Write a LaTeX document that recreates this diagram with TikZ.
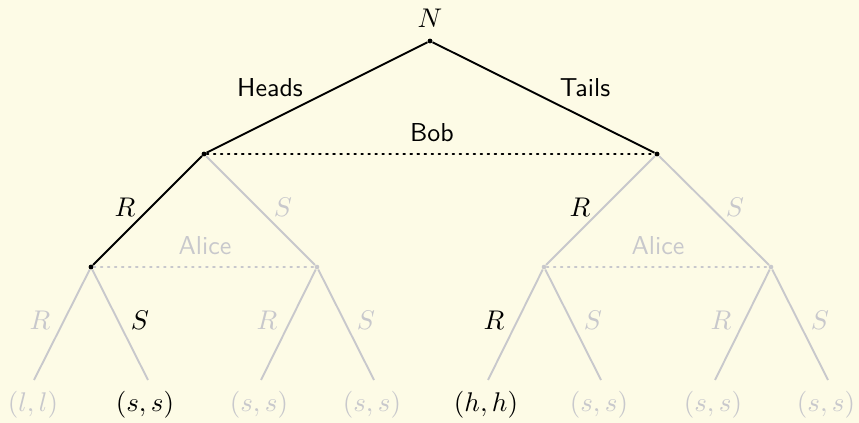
\documentclass[tikz,border=0pt]{standalone}
\definecolor{bgc}{RGB}{253,251,230}
\definecolor{fade}{RGB}{200,200,204}
\begin{document}
\begin{tikzpicture}[x=0.37037pt,y=-0.37037pt,
  dotnode/.style={circle,fill=#1,inner sep=0pt,minimum size=1.7pt},
  bl/.style={draw=black,line width=0.7pt},
  gr/.style={draw=fade,line width=0.7pt},
  info/.style={line width=0.7pt,dash pattern=on 0.6pt off 2pt,line cap=round},
  lab/.style={inner sep=0pt},
  sflab/.style={inner sep=0pt,font=\fontsize{9.6}{11}\selectfont\sffamily},
  leaflab/.style={inner sep=0pt}]
\fill[bgc] (0,0) rectangle (859,423);
\useasboundingbox (0,0) rectangle (859,423);
% nodes
\node[dotnode=black] (r) at (430,41) {};
\node[dotnode=black] (b1) at (204,154) {};
\node[dotnode=black] (b2) at (657,154) {};
\node[dotnode=black] (a1) at (91,267) {};
\node[dotnode=fade] (a2) at (317,267) {};
\node[dotnode=fade] (a3) at (544,267) {};
\node[dotnode=fade] (a4) at (771,267) {};
\coordinate (l1) at (34,380);
\coordinate (l2) at (148,380);
\coordinate (l3) at (261,380);
\coordinate (l4) at (374,380);
\coordinate (l5) at (488,380);
\coordinate (l6) at (601,380);
\coordinate (l7) at (715,380);
\coordinate (l8) at (828,380);
% info sets
\draw[info,fade] (a1) -- (a2);
\draw[info,fade] (a3) -- (a4);
\draw[info,black] (b1) -- (b2);
% edges
\draw[gr] (b1) -- (a2);
\draw[gr] (b2) -- (a3);
\draw[gr] (b2) -- (a4);
\draw[gr] (a1) -- (l1);
\draw[gr] (a1) -- (l2);
\draw[gr] (a2) -- (l3);
\draw[gr] (a2) -- (l4);
\draw[gr] (a3) -- (l5);
\draw[gr] (a3) -- (l6);
\draw[gr] (a4) -- (l7);
\draw[gr] (a4) -- (l8);
\draw[bl] (r) -- (b1);
\draw[bl] (r) -- (b2);
\draw[bl] (b1) -- (a1);
\node[dotnode=black] at (r) {};
\node[dotnode=black] at (b1) {};
\node[dotnode=black] at (b2) {};
\node[dotnode=black] at (a1) {};
% labels
\node[lab] (nl) at (430,18) {$N$};
\node[sflab] (hl) at (270,88) {Heads};
\node[sflab] (tl) at (585,88) {Tails};
\node[sflab] (bob) at (432,133) {Bob};
\node[sflab,text=fade] (al1) at (205,246) {Alice};
\node[sflab,text=fade] (al2) at (658,246) {Alice};
\node[lab] (e1) at (125,207) {$R$};
\node[lab,text=fade] (e2) at (283,207) {$S$};
\node[lab] (e3) at (580,207) {$R$};
\node[lab,text=fade] (e4) at (735,207) {$S$};
\node[lab,text=fade] (f1) at (40,320) {$R$};
\node[lab] (f2) at (140,320) {$S$};
\node[lab,text=fade] (f3) at (267,320) {$R$};
\node[lab,text=fade] (f4) at (366,320) {$S$};
\node[lab] (f5) at (494,320) {$R$};
\node[lab,text=fade] (f6) at (593,320) {$S$};
\node[lab,text=fade] (f7) at (721,320) {$R$};
\node[lab,text=fade] (f8) at (820,320) {$S$};
\node[leaflab,text=fade] (p1) at (33,405) {$(l,l)$};
\node[leaflab] (p2) at (145,405) {$(s,s)$};
\node[leaflab,text=fade] (p3) at (259,405) {$(s,s)$};
\node[leaflab,text=fade] (p4) at (372,405) {$(s,s)$};
\node[leaflab] (p5) at (486,405) {$(h,h)$};
\node[leaflab,text=fade] (p6) at (599,405) {$(s,s)$};
\node[leaflab,text=fade] (p7) at (713,405) {$(s,s)$};
\node[leaflab,text=fade] (p8) at (826,405) {$(s,s)$};
\end{tikzpicture}
\end{document}
